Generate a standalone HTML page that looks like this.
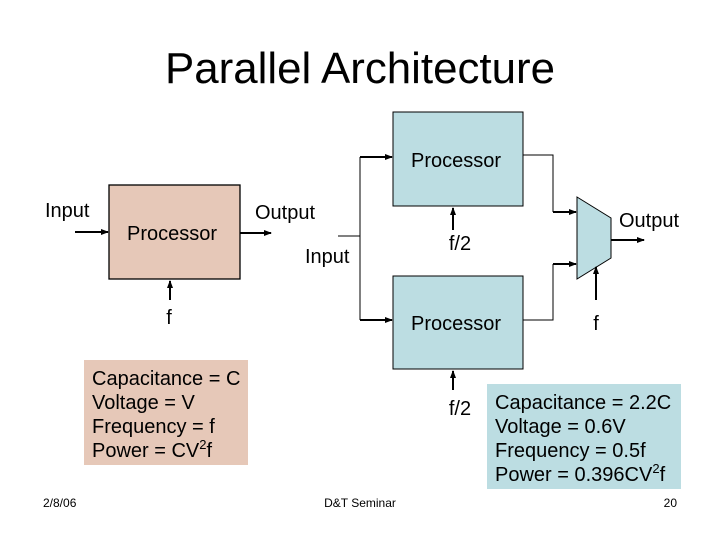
<!DOCTYPE html>
<html><head><meta charset="utf-8"><style>
html,body{margin:0;padding:0;background:#fff}
svg{display:block}
text{font-family:"Liberation Sans",Arial,sans-serif;fill:#000}
</style></head><body>
<svg width="720" height="540" viewBox="0 0 720 540" xmlns="http://www.w3.org/2000/svg">
<defs>
<marker id="a" markerWidth="8" markerHeight="8" refX="7" refY="4" orient="auto" markerUnits="userSpaceOnUse">
<path d="M0,1 L8,4 L0,7 Z" fill="#000"/></marker>
</defs>
<text x="360" y="83" font-size="44" text-anchor="middle" textLength="390" lengthAdjust="spacingAndGlyphs">Parallel Architecture</text>

<!-- left processor -->
<rect x="109" y="185" width="131" height="94" fill="#e6c8b8" stroke="#000" stroke-width="1.3"/>
<text x="172" y="240" font-size="20" text-anchor="middle">Processor</text>
<text x="45" y="217" font-size="20">Input</text>
<line x1="75" y1="232" x2="108" y2="232" stroke="#000" stroke-width="2" marker-end="url(#a)"/>
<text x="255" y="219" font-size="20">Output</text>
<line x1="240" y1="233" x2="271" y2="233" stroke="#000" stroke-width="2" marker-end="url(#a)"/>
<line x1="170" y1="300" x2="170" y2="281" stroke="#000" stroke-width="2" marker-end="url(#a)"/>
<text x="169" y="324" font-size="20" text-anchor="middle">f</text>

<rect x="84" y="360" width="164" height="105" fill="#e6c8b8"/>
<text font-size="20"><tspan x="92" y="385">Capacitance = C</tspan><tspan x="92" y="409">Voltage = V</tspan><tspan x="92" y="433">Frequency = f</tspan><tspan x="92" y="457">Power = CV<tspan font-size="13" dy="-8">2</tspan><tspan dy="8">f</tspan></tspan></text>

<!-- right -->
<rect x="393" y="112" width="130" height="94" fill="#bcdde2" stroke="#000" stroke-width="1"/>
<text x="456" y="167" font-size="20" text-anchor="middle">Processor</text>
<rect x="393" y="276" width="130" height="93" fill="#bcdde2" stroke="#000" stroke-width="1"/>
<text x="456" y="330" font-size="20" text-anchor="middle">Processor</text>

<text x="305" y="263" font-size="20">Input</text>
<polyline points="338,236 360,236" fill="none" stroke="#000" stroke-width="1"/>
<polyline points="360,157 360,320" fill="none" stroke="#000" stroke-width="1"/>
<line x1="360" y1="157" x2="392" y2="157" stroke="#000" stroke-width="2" marker-end="url(#a)"/>
<line x1="360" y1="320" x2="392" y2="320" stroke="#000" stroke-width="2" marker-end="url(#a)"/>

<line x1="453" y1="230" x2="453" y2="208" stroke="#000" stroke-width="2" marker-end="url(#a)"/>
<text x="460" y="250" font-size="20" text-anchor="middle">f/2</text>
<line x1="453" y1="390" x2="453" y2="371" stroke="#000" stroke-width="2" marker-end="url(#a)"/>
<text x="460" y="415" font-size="20" text-anchor="middle">f/2</text>

<polyline points="523,155 553,155 553,212" fill="none" stroke="#000" stroke-width="1"/>
<line x1="553" y1="212" x2="576" y2="212" stroke="#000" stroke-width="2" marker-end="url(#a)"/>
<polyline points="523,320 553,320 553,264" fill="none" stroke="#000" stroke-width="1"/>
<line x1="553" y1="264" x2="576" y2="264" stroke="#000" stroke-width="2" marker-end="url(#a)"/>

<polygon points="577,197 611,218 611,258 577,279" fill="#bcdde2" stroke="#000" stroke-width="1"/>
<line x1="611" y1="240" x2="644" y2="240" stroke="#000" stroke-width="2" marker-end="url(#a)"/>
<text x="619" y="227" font-size="20">Output</text>
<line x1="596" y1="300" x2="596" y2="267" stroke="#000" stroke-width="2" marker-end="url(#a)"/>
<text x="596" y="330" font-size="20" text-anchor="middle">f</text>

<rect x="487" y="384" width="194" height="105" fill="#bcdde2"/>
<text font-size="20"><tspan x="495" y="409">Capacitance = 2.2C</tspan><tspan x="495" y="433">Voltage = 0.6V</tspan><tspan x="495" y="457">Frequency = 0.5f</tspan><tspan x="495" y="481">Power = 0.396CV<tspan font-size="13" dy="-8">2</tspan><tspan dy="8">f</tspan></tspan></text>

<text x="43" y="507" font-size="12">2/8/06</text>
<text x="360" y="507" font-size="12" text-anchor="middle">D&amp;T Seminar</text>
<text x="677" y="507" font-size="12" text-anchor="end">20</text>
</svg>
</body></html>
